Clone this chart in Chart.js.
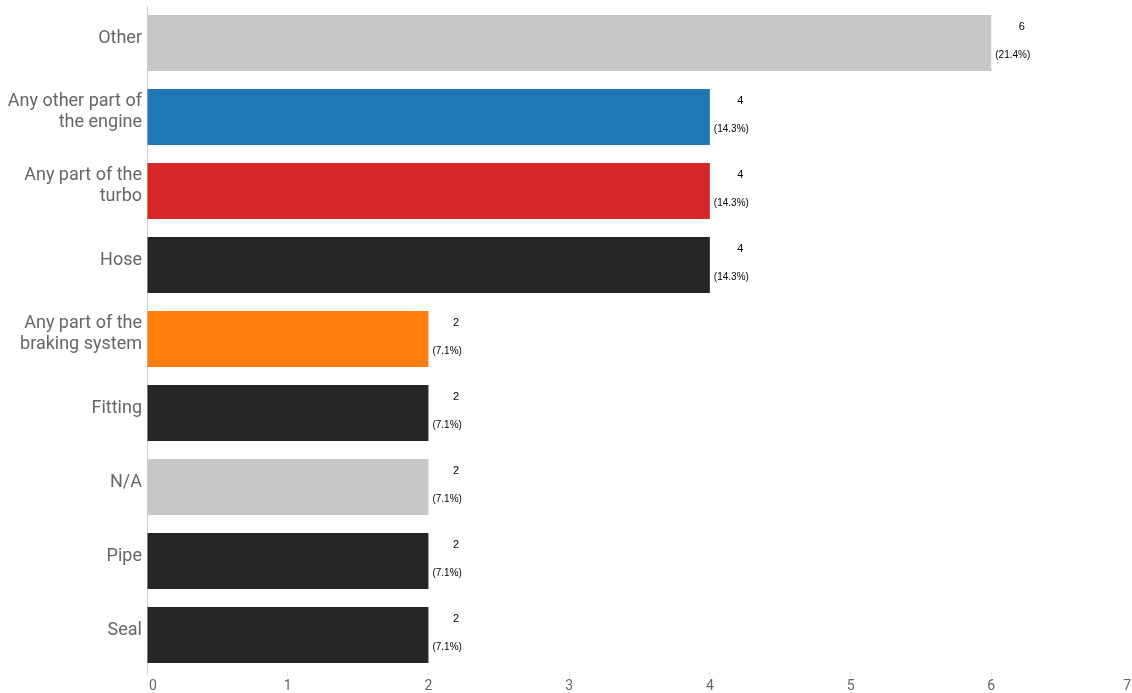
<!DOCTYPE html>
<html>
<head>
<meta charset="utf-8">
<script src="https://cdn.jsdelivr.net/npm/chart.js@4"></script>
<style>
  html, body { margin:0; padding:0; background:#fff; }
  #wrap { width:1132px; height:693px; }
</style>
</head>
<body>
<div id="wrap"><canvas id="partsChart" width="1132" height="693"></canvas></div>
<script>
// categories, top to bottom
const categories = [
  'Other',
  ['Any other part of', 'the engine'],
  ['Any part of the', 'turbo'],
  'Hose',
  ['Any part of the', 'braking system'],
  'Fitting',
  'N/A',
  'Pipe',
  'Seal'
];
const counts = [6, 4, 4, 4, 2, 2, 2, 2, 2];
const percents = ['21.4%', '14.3%', '14.3%', '14.3%', '7.1%', '7.1%', '7.1%', '7.1%', '7.1%'];
const barColors = ['#c7c7c7', '#1f77b4', '#d62728', '#262626', '#ff7f0e', '#262626', '#c7c7c7', '#262626', '#262626'];
const xTicks = [0, 1, 2, 3, 4, 5, 6, 7];

// count + percentage next to each bar end
const valueLabels = {
  id: 'valueLabels',
  afterDatasetsDraw: function(chart) {
    const ctx = chart.ctx;
    const meta = chart.getDatasetMeta(0);
    ctx.save();
    ctx.fillStyle = '#000';
    ctx.textBaseline = 'middle';
    meta.data.forEach(function(bar, i) {
      const top = bar.y - bar.height / 2;
      ctx.font = '10px "Liberation Sans", Arial, sans-serif';
      const pct = '(' + percents[i] + ')';
      const w = ctx.measureText(pct).width;
      ctx.textAlign = 'left';
      ctx.fillText(pct, bar.x + 4, top + 40);
      ctx.font = '11px "Liberation Sans", Arial, sans-serif';
      ctx.textAlign = 'center';
      ctx.fillText(String(counts[i]), bar.x + 4 + w / 2 + 9, top + 12);
    });
    ctx.restore();
  }
};

// x tick labels, end ones pulled inward like the original
const xLabels = {
  id: 'xLabels',
  afterDraw: function(chart) {
    const ctx = chart.ctx;
    const sx = chart.scales.x;
    ctx.save();
    ctx.fillStyle = '#666';
    ctx.font = '14px Roboto';
    ctx.textBaseline = 'middle';
    xTicks.forEach(function(v, i) {
      let px = sx.getPixelForValue(v);
      if (i === 0) { ctx.textAlign = 'left'; px += 2; }
      else if (i === xTicks.length - 1) { ctx.textAlign = 'right'; px -= 1; }
      else ctx.textAlign = 'center';
      ctx.fillText(String(v), px, sx.bottom - 7);
    });
    ctx.restore();
  }
};

new Chart(document.getElementById('partsChart').getContext('2d'), {
  type: 'bar',
  data: {
    labels: categories,
    datasets: [{ data: counts, backgroundColor: barColors, barPercentage: 0.76, categoryPercentage: 1 }]
  },
  options: {
    indexAxis: 'y',
    responsive: false,
    animation: false,
    layout: { padding: { top: 6, right: -2, left: 0, bottom: 0 } },
    plugins: { legend: { display: false }, tooltip: { enabled: false } },
    scales: {
      x: {
        min: 0, max: 7,
        afterBuildTicks: function(axis) { axis.ticks = xTicks.map(v => ({ value: v })); },
        afterFit: function(axis) { axis.height = 21; axis.paddingLeft = 0; axis.paddingRight = 0; },
        grid: { drawOnChartArea: false, drawTicks: true, tickLength: 4, color: '#e6e6e6' },
        border: { display: false },
        ticks: { color: 'rgba(0,0,0,0)', padding: 3, font: { family: 'Roboto', size: 14 } }
      },
      y: {
        afterFit: function(axis) { axis.width = 147; axis.paddingTop = 0; axis.paddingBottom = 0; },
        grid: { display: false, drawTicks: false },
        border: { display: true, color: '#cfcfcf', dash: [1, 2] },
        ticks: { color: '#666', padding: 5, labelOffset: -5, font: { family: 'Roboto', size: 18, lineHeight: 1.2 } }
      }
    }
  },
  plugins: [valueLabels, xLabels]
});
</script>
</body>
</html>
